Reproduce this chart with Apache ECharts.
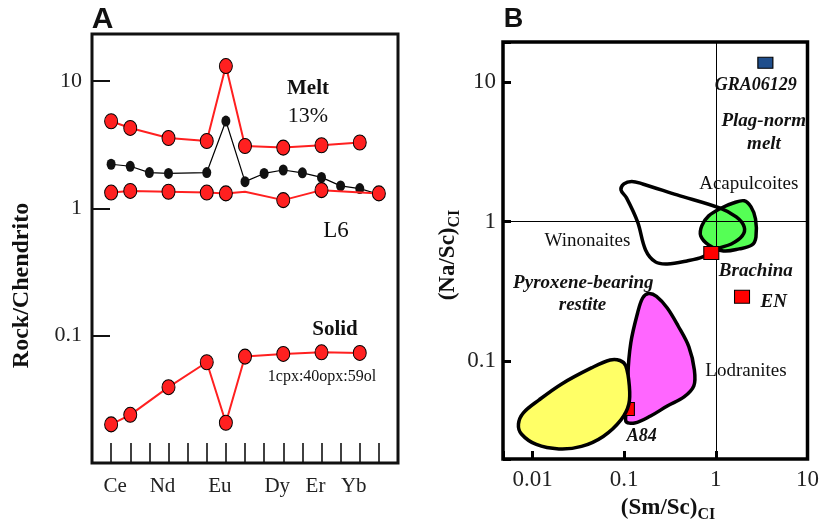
<!DOCTYPE html>
<html><head><meta charset="utf-8">
<script src="https://cdn.jsdelivr.net/npm/echarts@6/dist/echarts.min.js"></script>
<style>html,body{margin:0;padding:0;background:#fff}#c{width:822px;height:530px}</style>
</head><body><div id="c"></div>
<script>
// ---------- Panel A data (REE patterns, Rock/Chondrite) ----------
const reeOrder = ['La','Ce','Pr','Nd','Pm','Sm','Eu','Gd','Tb','Dy','Ho','Er','Tm','Yb','Lu'];
const reeAxisLabels = ['Ce','Nd','Eu','Dy','Er','Yb'];
const yTickExpA = [-1, 0, 1];
const yTickLabelsA = ['0.1', '1', '10'];

const meltElements = ['La','Ce','Nd','Sm','Eu','Gd','Dy','Er','Yb'];
const meltValues   = [4.83, 4.28, 3.57, 3.38, 13.1, 3.09, 3.00, 3.13, 3.29];

const l6Elements = ['La','Ce','Pr','Nd','Sm','Eu','Gd','Tb','Dy','Ho','Er','Tm','Yb','Lu'];
const l6Values   = [2.22, 2.14, 1.91, 1.88, 1.91, 4.85, 1.62, 1.88, 2.00, 1.90, 1.75, 1.50, 1.43, 1.29];

const l6RedElements = ['La','Ce','Nd','Sm','Eu','Gd','Dy','Er','Lu'];
const l6RedValues   = [1.33, 1.37, 1.35, 1.33, 1.31, 1.35, 1.16, 1.39, 1.31];
const l6RedNoMarker = ['Gd'];

const solidElements = ['La','Ce','Nd','Sm','Eu','Gd','Dy','Er','Yb'];
const solidValues   = [0.0201, 0.0239, 0.0394, 0.0618, 0.0207, 0.0685, 0.0719, 0.0740, 0.0732];

// ---------- Panel B data ((Sm/Sc)CI vs (Na/Sc)CI) ----------
const xTickExpB = [-2, -1, 0, 1];
const xTickLabelsB = ['0.01', '0.1', '1', '10'];
const yTickExpB = [-1, 0, 1];
const yTickLabelsB = ['0.1', '1', '10'];

const pointNames = ['GRA06129', 'Brachina', 'EN', 'A84'];
const pointSmSc  = [3.47, 0.892, 1.93, 0.107];
const pointNaSc  = [13.7, 0.597, 0.290, 0.0456];

const winonaites = [[0.0922,1.686],[0.0993,1.861],[0.121,1.94],[0.159,1.86],[0.378,1.553],[1.096,1.253],
  [1.67,1.08],[2.04,0.916],[1.94,0.790],[1.475,0.692],[1.02,0.638],[0.719,0.559],[0.484,0.523],
  [0.295,0.498],[0.219,0.515],[0.171,0.627],[0.140,0.995],[0.106,1.479]];
const acapulcoites = [[1.55,1.36],[2.04,1.41],[2.42,1.274],[2.71,1.045],[2.74,0.777],[2.48,0.681],
  [1.80,0.638],[1.21,0.617],[0.835,0.681],[0.684,0.790],[0.702,0.932],[0.835,1.099],[1.15,1.253]];
const lodranites = [[0.1845,0.306],[0.225,0.292],[0.295,0.241],[0.388,0.179],[0.508,0.127],[0.583,0.0868],
  [0.575,0.0667],[0.450,0.0556],[0.295,0.0479],[0.194,0.0406],[0.130,0.0362],[0.104,0.0374],
  [0.1124,0.0530],[0.1097,0.0786],[0.118,0.1355],[0.140,0.222],[0.159,0.284]];
const restite = [[0.00702,0.0356],[0.00794,0.0428],[0.0118,0.0530],[0.0208,0.0689],[0.0438,0.0897],
  [0.0702,0.1023],[0.0899,0.1014],[0.104,0.0927],[0.1138,0.0667],[0.1124,0.0495],[0.0922,0.0381],
  [0.0590,0.0290],[0.0342,0.0246],[0.0194,0.0236],[0.0110,0.0254],[0.00756,0.0302]];

// ---------- helpers ----------
const SERIF = 'Liberation Serif';
const pos = el => reeOrder.indexOf(el) + 1;
const ellipse = 'path://M0,50 A50,50 0 1,1 100,50 A50,50 0 1,1 0,50 Z';
const pairs = (els, vals) => els.map((e, i) => [pos(e), vals[i]]);
function logLabel(exps, labels) {
  return function (v) {
    const lg = Math.log10(v), r = Math.round(lg);
    if (Math.abs(lg - r) > 1e-6) return '';
    const k = exps.indexOf(r);
    return k < 0 ? '' : labels[k];
  };
}
function polygonSeries(name, pts, fill, z) {
  return {
    type: 'custom', name, xAxisIndex: 1, yAxisIndex: 1, z, silent: true,
    data: pts, encode: { x: 0, y: 1 },
    renderItem: function (params, api) {
      if (params.dataIndex !== 0) return null;
      const points = pts.map(p => api.coord(p));
      return { type: 'polygon', shape: { points, smooth: 0.35 },
        style: { fill, stroke: '#000', lineWidth: 3.5 } };
    }
  };
}
function txt(text, x, y, font, extra) {
  return Object.assign({ type: 'text', x, y, z: 100, silent: true,
    style: { text, font, fill: '#111', textAlign: 'center', textVerticalAlign: 'middle' } }, extra || {});
}

const redLine = { color: '#ff2020', width: 2 };
const redItem = { color: '#ff2020', borderColor: '#000', borderWidth: 1, opacity: 1 };

const option = {
  animation: false,
  backgroundColor: '#fff',
  grid: [
    { left: 92, top: 34, width: 306, height: 429, show: true, borderColor: '#111', borderWidth: 3, backgroundColor: 'transparent' },
    { left: 503, top: 42, width: 310, height: 417, show: true, borderColor: '#000', borderWidth: 3.5, backgroundColor: 'transparent' }
  ],
  xAxis: [
    { type: 'value', gridIndex: 0, min: 0, max: 16, interval: 1,
      axisLine: { show: false }, splitLine: { show: false },
      axisTick: { inside: true, length: 20, lineStyle: { color: '#111', width: 1.6 } },
      axisLabel: { margin: 13, showMinLabel: true, showMaxLabel: true, hideOverlap: false,
        formatter: function (v) {
          const el = reeOrder[v - 1];
          if (!el || reeAxisLabels.indexOf(el) < 0) return '';
          return (el === 'Ce' ? '{c|' : '{s|') + el + '}';
        },
        rich: {
          s: { fontFamily: SERIF, fontSize: 21, color: '#222', padding: [0, 12, 0, 0] },
          c: { fontFamily: SERIF, fontSize: 21, color: '#222', padding: [0, 30, 0, 0] }
        } } },
    { type: 'log', logBase: 10, gridIndex: 1, min: 0.00476, max: 10,
      axisLine: { show: false }, splitLine: { show: false },
      axisTick: { inside: true, length: 8, lineStyle: { color: '#000', width: 3 } },
      axisLabel: { margin: 9, fontFamily: SERIF, fontSize: 23, color: '#222', hideOverlap: false,
        showMinLabel: true, showMaxLabel: true, formatter: logLabel(xTickExpB, xTickLabelsB) } }
  ],
  yAxis: [
    { type: 'log', logBase: 10, gridIndex: 0, min: 0.01, max: 23.4,
      axisLine: { show: false }, splitLine: { show: false },
      axisTick: { inside: true, length: 18, lineStyle: { color: '#111', width: 2 } },
      axisLabel: { margin: 10, fontFamily: SERIF, fontSize: 22, color: '#222', hideOverlap: false,
        formatter: logLabel(yTickExpA, yTickLabelsA) } },
    { type: 'log', logBase: 10, gridIndex: 1, min: 0.02, max: 19.3,
      axisLine: { show: false }, splitLine: { show: false },
      axisTick: { inside: true, length: 8, lineStyle: { color: '#000', width: 3 } },
      axisLabel: { margin: 7, fontFamily: SERIF, fontSize: 23, color: '#222', hideOverlap: false,
        formatter: logLabel(yTickExpB, yTickLabelsB) } }
  ],
  series: [
    // Panel A
    { type: 'line', xAxisIndex: 0, yAxisIndex: 0, z: 2, data: pairs(l6Elements, l6Values),
      lineStyle: { color: '#000', width: 1.2 }, symbol: ellipse, symbolSize: [9, 11],
      itemStyle: { color: '#111', borderWidth: 0, opacity: 1 } },
    { type: 'line', xAxisIndex: 0, yAxisIndex: 0, z: 3, data: pairs(meltElements, meltValues),
      lineStyle: redLine, symbol: ellipse, symbolSize: [13, 15], itemStyle: redItem },
    { type: 'line', xAxisIndex: 0, yAxisIndex: 0, z: 3,
      data: l6RedElements.map((e, i) => l6RedNoMarker.indexOf(e) >= 0
        ? { value: [pos(e), l6RedValues[i]], symbol: 'none' } : [pos(e), l6RedValues[i]]),
      lineStyle: redLine, symbol: ellipse, symbolSize: [13, 15], itemStyle: redItem },
    { type: 'line', xAxisIndex: 0, yAxisIndex: 0, z: 3, data: pairs(solidElements, solidValues),
      lineStyle: redLine, symbol: ellipse, symbolSize: [13, 15], itemStyle: redItem },
    // Panel B reference lines
    { type: 'line', xAxisIndex: 1, yAxisIndex: 1, data: [], z: 1,
      markLine: { silent: true, symbol: 'none', label: { show: false },
        lineStyle: { color: '#000', width: 1, type: 'solid', opacity: 1 },
        data: [{ xAxis: 1 }, { yAxis: 1 }] } },
    // Panel B fields
    polygonSeries('Acapulcoites', acapulcoites, '#55ff55', 2),
    polygonSeries('Winonaites', winonaites, 'rgba(0,0,0,0)', 3),
    polygonSeries('Lodranites', lodranites, '#ff66ff', 2),
    { type: 'scatter', xAxisIndex: 1, yAxisIndex: 1, z: 3, symbol: 'rect', symbolSize: [15, 13],
      data: [[pointSmSc[3], pointNaSc[3]]],
      itemStyle: { color: '#ff0000', borderColor: '#000', borderWidth: 1, opacity: 1 } },
    polygonSeries('Restite', restite, '#ffff66', 4),
    { type: 'scatter', xAxisIndex: 1, yAxisIndex: 1, z: 5, symbol: 'rect',
      data: [0, 1, 2].map(i => ({ value: [pointSmSc[i], pointNaSc[i]],
        symbolSize: i === 0 ? [15, 11] : [15, 13],
        itemStyle: { color: i === 0 ? '#1f4e8c' : '#ff0000', borderColor: '#000', borderWidth: 1, opacity: 1 } })) }
  ],
  graphic: [
    txt('A', 102.5, 20, 'bold 30px "Liberation Sans"'),
    txt('B', 513.5, 20, 'bold 27px "Liberation Sans"'),
    txt('Melt', 308, 89, 'bold 21px "Liberation Serif"'),
    txt('13%', 308, 116, '22px "Liberation Serif"'),
    txt('L6', 336, 231, '23px "Liberation Serif"'),
    txt('Solid', 335, 330, 'bold 21px "Liberation Serif"'),
    txt('1cpx:40opx:59ol', 322, 377, '16px "Liberation Serif"'),
    txt('Rock/Chendrito', 22, 285.5, 'bold 24px "Liberation Serif"', { rotation: Math.PI / 2 }),
    txt('GRA06129', 755.7, 85, 'italic bold 18px "Liberation Serif"'),
    txt('Plag-norm', 763.7, 121, 'italic bold 19px "Liberation Serif"'),
    txt('melt', 764, 144, 'italic bold 19px "Liberation Serif"'),
    txt('Acapulcoites', 748.8, 184.5, '19px "Liberation Serif"'),
    txt('Winonaites', 587.5, 241, '19px "Liberation Serif"'),
    txt('Brachina', 755.8, 271.5, 'italic bold 19px "Liberation Serif"'),
    txt('EN', 773.7, 302, 'italic bold 19px "Liberation Serif"'),
    txt('Pyroxene-bearing', 583.3, 283, 'italic bold 19px "Liberation Serif"'),
    txt('restite', 582.5, 305, 'italic bold 19px "Liberation Serif"'),
    txt('Lodranites', 746, 371.5, '19px "Liberation Serif"'),
    txt('A84', 641.7, 436.5, 'italic bold 18px "Liberation Serif"'),
    { type: 'text', x: 450, y: 255, rotation: Math.PI / 2, z: 100, silent: true,
      style: { text: '{m|(Na/Sc)}{s|CI}', textAlign: 'center', textVerticalAlign: 'middle',
        rich: { m: { font: 'bold 23px "Liberation Serif"', fill: '#111', lineHeight: 26, verticalAlign: 'top' },
                s: { font: 'bold 16px "Liberation Serif"', fill: '#111', lineHeight: 16, verticalAlign: 'bottom' } } } },
    { type: 'text', x: 668, y: 510, z: 100, silent: true,
      style: { text: '{m|(Sm/Sc)}{s|CI}', textAlign: 'center', textVerticalAlign: 'middle',
        rich: { m: { font: 'bold 23px "Liberation Serif"', fill: '#111', lineHeight: 26, verticalAlign: 'top' },
                s: { font: 'bold 16px "Liberation Serif"', fill: '#111', lineHeight: 16, verticalAlign: 'bottom' } } } }
  ]
};
const chart = echarts.init(document.getElementById('c'), null, { renderer: 'canvas' });
chart.setOption(option);
</script>
</body></html>
